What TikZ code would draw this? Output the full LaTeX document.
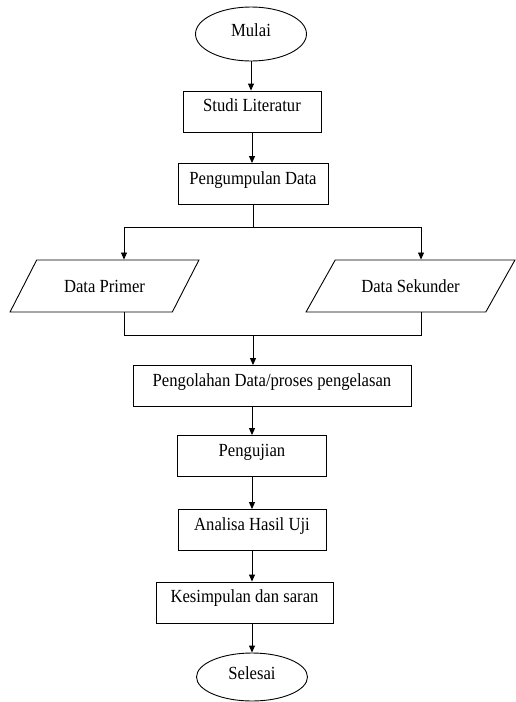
\documentclass[tikz,border=0pt]{standalone}
\usepackage{fontspec}
\setmainfont{Liberation Serif}[FakeStretch=0.9]
\usetikzlibrary{arrows.meta,shapes,positioning}

\begin{document}
\begin{tikzpicture}[x=1pt,y=-1pt,line width=0.9pt,
  font=\fontsize{18.5}{20}\selectfont,
  proc/.style={draw,rectangle,text height=17.5pt,text depth=17.5pt,inner ysep=3pt,inner xsep=0pt},
  term/.style={draw,ellipse,minimum width=111pt,inner sep=0pt,text depth=8pt},
  io/.style={draw,trapezium,trapezium left angle=48,trapezium right angle=132,
             trapezium stretches=true,minimum height=52pt},
  arr/.style={-{Triangle[length=7pt,width=6pt]}}]
\useasboundingbox (0,0) rectangle (515,702);

\node[term,minimum height=54pt] (mulai) at (251,34) {Mulai};
\node[proc,minimum width=138pt] (studi) at (252,111.5) {Studi Literatur};
\node[proc,minimum width=150pt] (kumpul) at (253,184) {Pengumpulan Data};
\node[io,minimum width=189pt] (primer) at (104.5,286) {Data Primer};
\node[io,trapezium left angle=44,trapezium right angle=136,minimum width=209pt]
  (sekunder) at (410.5,286) {Data Sekunder};
\node[proc,minimum width=278pt] (olah) at (272,386) {Pengolahan Data/proses pengelasan};
\node[proc,minimum width=149pt] (uji) at (252,456) {Pengujian};
\node[proc,minimum width=148pt] (analisa) at (252,530) {Analisa Hasil Uji};
\node[proc,minimum width=177pt] (simpul) at (244.5,602.5) {Kesimpulan dan saran};
\node[term,minimum height=48pt] (selesai) at (252,677) {Selesai};

\coordinate (pecahL) at (124,227);
\coordinate (pecahR) at (421,227);
\coordinate (gabungL) at (124,335);
\coordinate (gabungR) at (421,335);

\draw[arr] (mulai.south) -- (mulai.south |- studi.north);
\draw[arr] (studi.south) -- (studi.south |- kumpul.north);
\draw (kumpul.south) -- (kumpul.south |- pecahL);
\draw (pecahL) -- (pecahR);
\draw[arr] (pecahL) -- (pecahL |- primer.north);
\draw[arr] (pecahR) -- (pecahR |- sekunder.north);
\draw (pecahL |- primer.south) -- (gabungL) -- (gabungR) -- (pecahR |- sekunder.south);
\draw[arr] (gabungL -| kumpul.south) -- (kumpul.south |- olah.north);
\draw[arr] (olah.south -| uji.north) -- (uji.north);
\draw[arr] (uji.south) -- (analisa.north);
\draw[arr] (analisa.south) -- (analisa.south |- simpul.north);
\draw[arr] (simpul.south -| selesai.north) -- (selesai.north);
\end{tikzpicture}
\end{document}
